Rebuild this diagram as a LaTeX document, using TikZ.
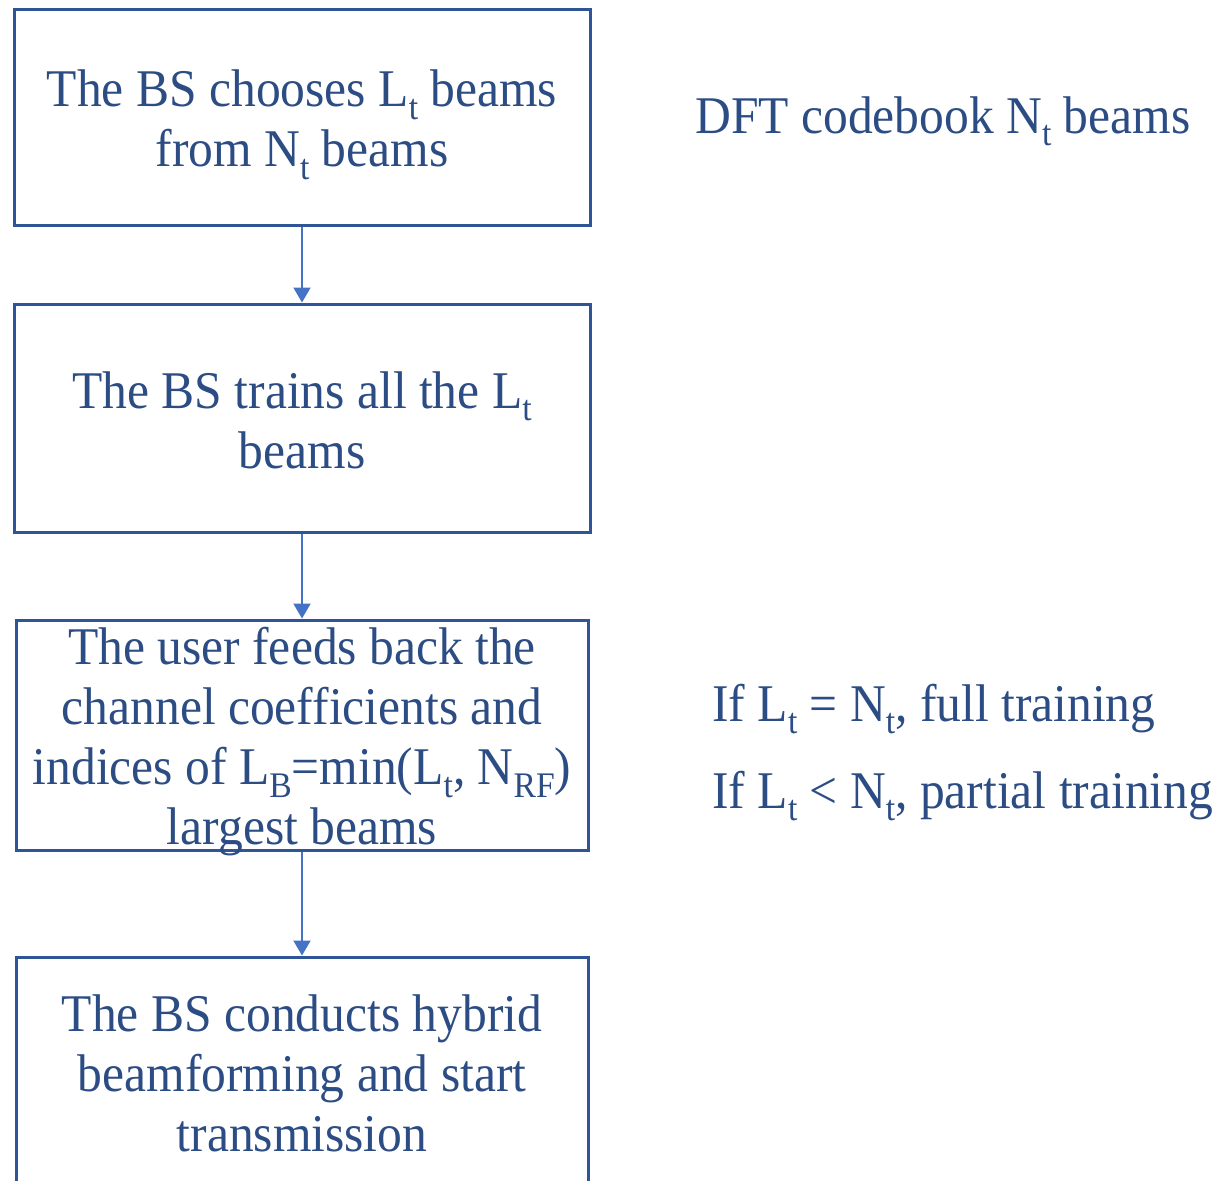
\documentclass[tikz,border=0pt]{standalone}
\usepackage{fontspec}
\setmainfont{Liberation Serif}[FakeStretch=0.935]
\usetikzlibrary{arrows.meta}
\definecolor{boxline}{HTML}{2F5597}
\definecolor{flowtext}{HTML}{2C4C84}
\definecolor{flowarrow}{HTML}{4472C4}
% lowered, smaller index letters
\newcommand{\lowidx}[1]{\raisebox{-0.24em}{\fontsize{18pt}{18pt}\selectfont #1}}
\tikzset{
  stepbox/.style={draw=boxline, line width=1.5pt, rectangle, inner sep=0pt},
  steptext/.style={text=flowtext, align=center, inner sep=0pt,
    font=\fontsize{26.5pt}{30pt}\selectfont},
  sidetext/.style={text=flowtext, inner sep=0pt, anchor=base west,
    font=\fontsize{26.5pt}{30pt}\selectfont},
  flow/.style={draw=flowarrow, line width=1pt, -{Triangle[width=8.5pt,length=7.5pt]}}
}
\begin{document}
\begin{tikzpicture}[x=0.5pt, y=-0.5pt]
  \clip (0,0) rectangle (1220,1180);
  % process boxes
  \node[stepbox, minimum width=288pt, minimum height=108pt] (b1) at (302,117) {};
  \node[stepbox, minimum width=288pt, minimum height=114pt] (b2) at (302,418) {};
  \node[stepbox, minimum width=286pt, minimum height=115pt] (b3) at (302,735) {};
  \node[stepbox, minimum width=286pt, minimum height=122pt] (b4) at (302,1079) {};
  % box texts
  \node[steptext] (t1) at (302,125) {The BS chooses L\lowidx{t} beams\\from N\lowidx{t} beams};
  \node[steptext] (t2) at (302,420) {The BS trains all the L\lowidx{t}\\beams};
  \node[steptext] (t3) at (302,742) {The user feeds back the\\channel coefficients and\\indices of L\lowidx{B}=min(L\lowidx{t}, N\lowidx{RF})\\largest beams};
  \node[steptext] (t4) at (302,1073) {The BS conducts hybrid\\beamforming and start\\transmission};
  % side notes
  \node[sidetext] (dft) at (695,133) {DFT codebook N\lowidx{t} beams};
  \node[sidetext] (full) at (712,721) {If L\lowidx{t} = N\lowidx{t}, full training};
  \node[sidetext] (part) at (712,808) {If L\lowidx{t} < N\lowidx{t}, partial training};
  % connectors
  \draw[flow] (b1.south) -- (b2.north);
  \draw[flow] (b2.south) -- (b3.north);
  \draw[flow] (b3.south) -- (b4.north);
\end{tikzpicture}
\end{document}
